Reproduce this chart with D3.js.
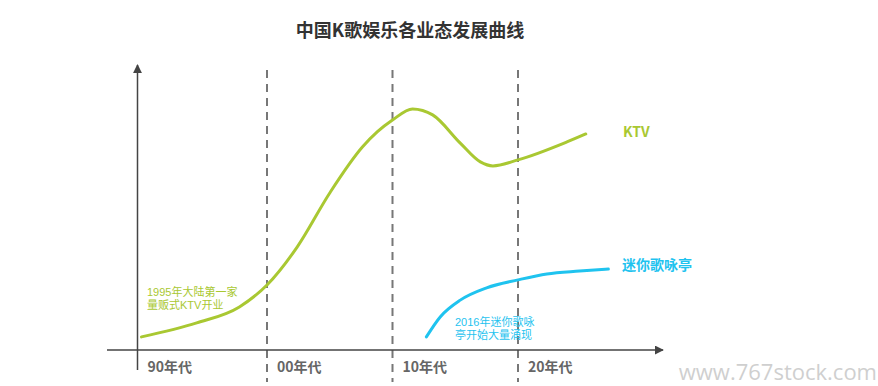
<!DOCTYPE html>
<html>
<head>
<meta charset="utf-8">
<script src="https://cdn.jsdelivr.net/npm/d3@7"></script>
<style>
  body { margin: 0; background: #fff; }
  text { font-family: "Noto Sans CJK SC", "Noto Sans", sans-serif; }
</style>
</head>
<body>
<div id="chart"></div>
<script>
// decades shown along the bottom, and their boundary years
var decades = ["90年代", "00年代", "10年代", "20年代"]
var decadeStart = [1990, 2000, 2010, 2020]

// KTV curve (year, relative level 0-100)
var ktvYears  = [1990, 1994.4, 1997.8, 2000, 2002.4, 2005, 2007.6, 2008.8, 2010, 2011.6, 2013.2, 2015.4, 2017, 2018, 2020, 2023.9, 2025.4]
var ktvValues = [4.6, 9.5, 15.1, 22.8, 36.1, 55.1, 71.2, 76.6, 80.7, 84.6, 82.5, 72.6, 66.0, 64.6, 66.7, 73.0, 75.8]

// mini KTV booth curve
var miniYears  = [2012.7, 2013.8, 2015.4, 2017.5, 2020, 2022.3, 2024.9, 2027.2]
var miniValues = [4.6, 11.6, 17.5, 21.8, 24.6, 26.7, 27.7, 28.4]

var seriesNames = ["KTV", "迷你歌咏亭"]
var notes = [["1995年大陆第一家", "量贩式KTV开业"], ["2016年迷你歌咏", "亭开始大量涌现"]]

var width = 878
var height = 386
var green = "#a9c832"
var blue = "#1fc3ef"

var svg = d3.select("#chart")
  .append("svg")
  .attr("width", width)
  .attr("height", height)

var x = d3.scaleLinear().domain([2000, 2020]).range([267, 518])
var y = d3.scaleLinear().domain([0, 100]).range([350, 65])

svg.append("defs").append("marker")
    .attr("id", "arrow")
    .attr("viewBox", "0 0 10 10")
    .attr("refX", 9).attr("refY", 5)
    .attr("markerWidth", 6).attr("markerHeight", 6)
    .attr("markerUnits", "strokeWidth")
    .attr("orient", "auto")
  .append("path")
    .attr("d", "M0,0L10,5L0,10Z")
    .attr("fill", "#444")

// title
svg.append("text")
    .attr("x", 410).attr("y", 37)
    .attr("text-anchor", "middle")
    .attr("font-size", 18)
    .attr("font-weight", "bold")
    .attr("fill", "#333")
    .text("中国K歌娱乐各业态发展曲线")

// decade separators
svg.append("g")
  .selectAll("line")
  .data(decadeStart.slice(1))
  .join("line")
    .attr("x1", d => x(d)).attr("x2", d => x(d))
    .attr("y1", 70).attr("y2", 382)
    .attr("stroke", "#777")
    .attr("stroke-width", 2)
    .attr("stroke-dasharray", "8,6")

// axes
svg.append("line")
    .attr("x1", 107).attr("x2", 663)
    .attr("y1", y(0)).attr("y2", y(0))
    .attr("stroke", "#444").attr("stroke-width", 1.5)
    .attr("marker-end", "url(#arrow)")

svg.append("line")
    .attr("x1", 137.5).attr("x2", 137.5)
    .attr("y1", 370).attr("y2", 65)
    .attr("stroke", "#444").attr("stroke-width", 1.5)
    .attr("marker-end", "url(#arrow)")

// decade labels
svg.append("g")
  .selectAll("text")
  .data(decades)
  .join("text")
    .attr("x", (d, i) => x(decadeStart[i]) + (i == 0 ? 6 : 10))
    .attr("y", 372)
    .attr("font-size", 14)
    .attr("font-weight", "bold")
    .attr("fill", "#666")
    .text(d => d)

var line = d3.line()
  .x(d => x(d[0]))
  .y(d => y(d[1]))
  .curve(d3.curveMonotoneX)

svg.append("path")
    .datum(d3.zip(ktvYears, ktvValues))
    .attr("fill", "none")
    .attr("stroke", green)
    .attr("stroke-width", 3)
    .attr("stroke-linecap", "round")
    .attr("d", line)

svg.append("path")
    .datum(d3.zip(miniYears, miniValues))
    .attr("fill", "none")
    .attr("stroke", blue)
    .attr("stroke-width", 3)
    .attr("stroke-linecap", "round")
    .attr("d", line)

// series labels
svg.append("text")
    .attr("x", 623).attr("y", 137)
    .attr("font-size", 14).attr("font-weight", "bold")
    .attr("fill", green)
    .text(seriesNames[0])

svg.append("text")
    .attr("x", 622).attr("y", 270)
    .attr("font-size", 14).attr("font-weight", "bold")
    .attr("fill", blue)
    .text(seriesNames[1])

// annotations, one text per line
var noteX = [147, 455]
var noteY = [296, 326]
var noteColor = [green, blue]
notes.forEach(function(lines, k) {
  svg.append("g")
    .selectAll("text")
    .data(lines)
    .join("text")
      .attr("x", noteX[k])
      .attr("y", (d, i) => noteY[k] + i * 13)
      .attr("font-size", 11)
      .attr("fill", noteColor[k])
      .style("font-family", "'Liberation Sans', 'Noto Sans CJK SC', sans-serif")
      .text(d => d)
})

// watermark
svg.append("text")
    .attr("x", 877).attr("y", 380)
    .attr("text-anchor", "end")
    .attr("font-size", 22)
    .attr("fill", "#cfcfcf")
    .style("font-family", "'Open Sans', sans-serif")
    .text("www.767stock.com")
</script>
</body>
</html>
